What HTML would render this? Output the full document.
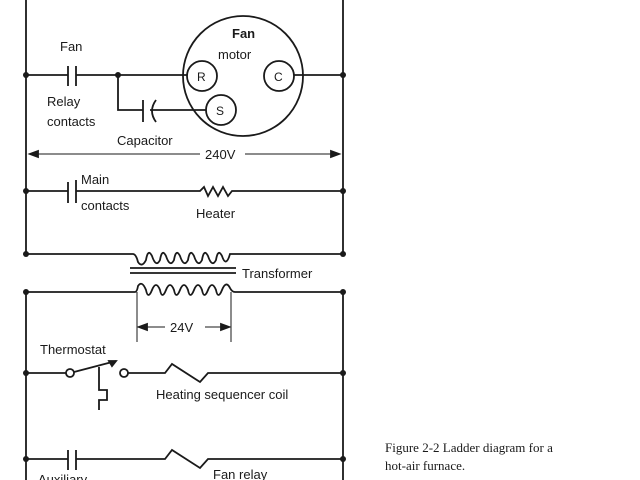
<!DOCTYPE html>
<html><head><style>body{margin:0;background:#fff}svg{display:block}</style></head><body>
<svg width="640" height="480" viewBox="0 0 640 480" xmlns="http://www.w3.org/2000/svg" font-family="Liberation Sans, sans-serif" fill="none" stroke="#1a1a1a" stroke-width="1.8">
<line x1="26" y1="0" x2="26" y2="255"/><line x1="343" y1="0" x2="343" y2="255"/>
<line x1="26" y1="292" x2="26" y2="480"/><line x1="343" y1="292" x2="343" y2="480"/>
<g fill="#1a1a1a" stroke="none">
<circle cx="26" cy="75" r="3"/><circle cx="343" cy="75" r="3"/><circle cx="118" cy="75" r="3"/>
<circle cx="26" cy="191" r="3"/><circle cx="343" cy="191" r="3"/>
<circle cx="26" cy="254" r="3"/><circle cx="343" cy="254" r="3"/>
<circle cx="26" cy="292" r="3"/><circle cx="343" cy="292" r="3"/>
<circle cx="26" cy="373" r="3"/><circle cx="343" cy="373" r="3"/>
<circle cx="26" cy="459" r="3"/><circle cx="343" cy="459" r="3"/>
</g>
<line x1="26" y1="75" x2="68" y2="75"/><line x1="68" y1="66" x2="68" y2="86"/><line x1="76" y1="66" x2="76" y2="86"/>
<line x1="76" y1="75" x2="187" y2="75"/>
<circle cx="243" cy="76" r="60"/>
<circle cx="202" cy="76" r="15"/><circle cx="279" cy="76" r="15"/><circle cx="221" cy="110" r="15"/>
<line x1="294" y1="75" x2="343" y2="75"/>
<polyline points="118,75 118,110 143,110"/><line x1="143" y1="100" x2="143" y2="122"/>
<path d="M156,100 Q148,111 156,122"/><line x1="150" y1="110" x2="206" y2="110"/>
<line x1="30" y1="154" x2="200" y2="154" stroke-width="1"/><line x1="245" y1="154" x2="339" y2="154" stroke-width="1"/>
<path d="M30,154 l8,-3 v6z M339,154 l-8,-3 v6z" fill="#1a1a1a"/>
<line x1="26" y1="191" x2="68" y2="191"/><line x1="68" y1="182" x2="68" y2="203"/><line x1="76" y1="180" x2="76" y2="203"/>
<polyline points="76,191 200,191 204,187 208,196 213,187 218,196 223,187 228,196 232,191 343,191"/>
<path d="M26,254 H133 Q136,254 138,262 Q142,268 146,260 Q148,248 152,256 Q156,268 160,260 Q162,248 166,256 Q170,268 174,260 Q176,248 180,256 Q184,268 188,260 Q190,248 194,256 Q198,268 202,260 Q204,248 208,256 Q212,268 216,260 Q218,248 222,256 Q226,268 230,254 H343"/>
<line x1="130" y1="268" x2="236" y2="268"/><line x1="130" y1="273" x2="236" y2="273"/>
<path d="M26,292 H135 Q137,292 138,286 Q142,280 146,290 Q148,300 152,290 Q156,280 160,290 Q162,300 166,290 Q170,280 174,290 Q176,300 180,290 Q184,280 188,290 Q190,300 194,290 Q198,280 202,290 Q204,300 208,290 Q212,280 216,290 Q218,300 222,290 Q226,280 230,288 Q232,292 235,292 H343"/>
<line x1="137" y1="292" x2="137" y2="342" stroke-width="1"/><line x1="231" y1="292" x2="231" y2="342" stroke-width="1"/>
<line x1="139" y1="327" x2="165" y2="327" stroke-width="1"/><line x1="205" y1="327" x2="229" y2="327" stroke-width="1"/>
<path d="M139,327 l8,-3 v6z M229,327 l-8,-3 v6z" fill="#1a1a1a"/>
<line x1="26" y1="373" x2="66" y2="373"/><circle cx="70" cy="373" r="4"/><circle cx="124" cy="373" r="4"/>
<line x1="74" y1="372" x2="116" y2="361"/><path d="M116,361 l-7,0 l3,5z" fill="#1a1a1a"/>
<polyline points="99,367 99,390 107,390 107,400 99,400 99,410"/>
<polyline points="128,373 165,373 172,364 200,382 208,373 343,373"/>
<line x1="26" y1="459" x2="68" y2="459"/><line x1="68" y1="450" x2="68" y2="470"/><line x1="76" y1="450" x2="76" y2="470"/>
<polyline points="76,459 165,459 172,450 200,468 208,459 343,459"/>
<g fill="#1a1a1a" stroke="none" font-size="13">
<text x="60" y="51">Fan</text>
<text x="232" y="38" font-weight="bold">Fan</text><text x="218" y="59">motor</text>
<text x="197" y="81" font-size="12">R</text><text x="274" y="81" font-size="12">C</text><text x="216" y="115" font-size="12">S</text>
<text x="47" y="106">Relay</text><text x="47" y="126">contacts</text>
<text x="117" y="145">Capacitor</text>
<text x="205" y="159">240V</text>
<text x="81" y="184">Main</text><text x="81" y="210">contacts</text>
<text x="196" y="218">Heater</text>
<text x="242" y="278">Transformer</text>
<text x="170" y="332">24V</text>
<text x="40" y="354">Thermostat</text>
<text x="156" y="399">Heating sequencer coil</text>
<text x="213" y="479">Fan relay</text>
<text x="38" y="484">Auxiliary</text>
<text x="385" y="452" font-family="Liberation Serif, serif" font-size="13">Figure 2-2   Ladder diagram for a</text>
<text x="385" y="470" font-family="Liberation Serif, serif" font-size="13">hot-air furnace.</text>
</g>
</svg>
</body></html>
